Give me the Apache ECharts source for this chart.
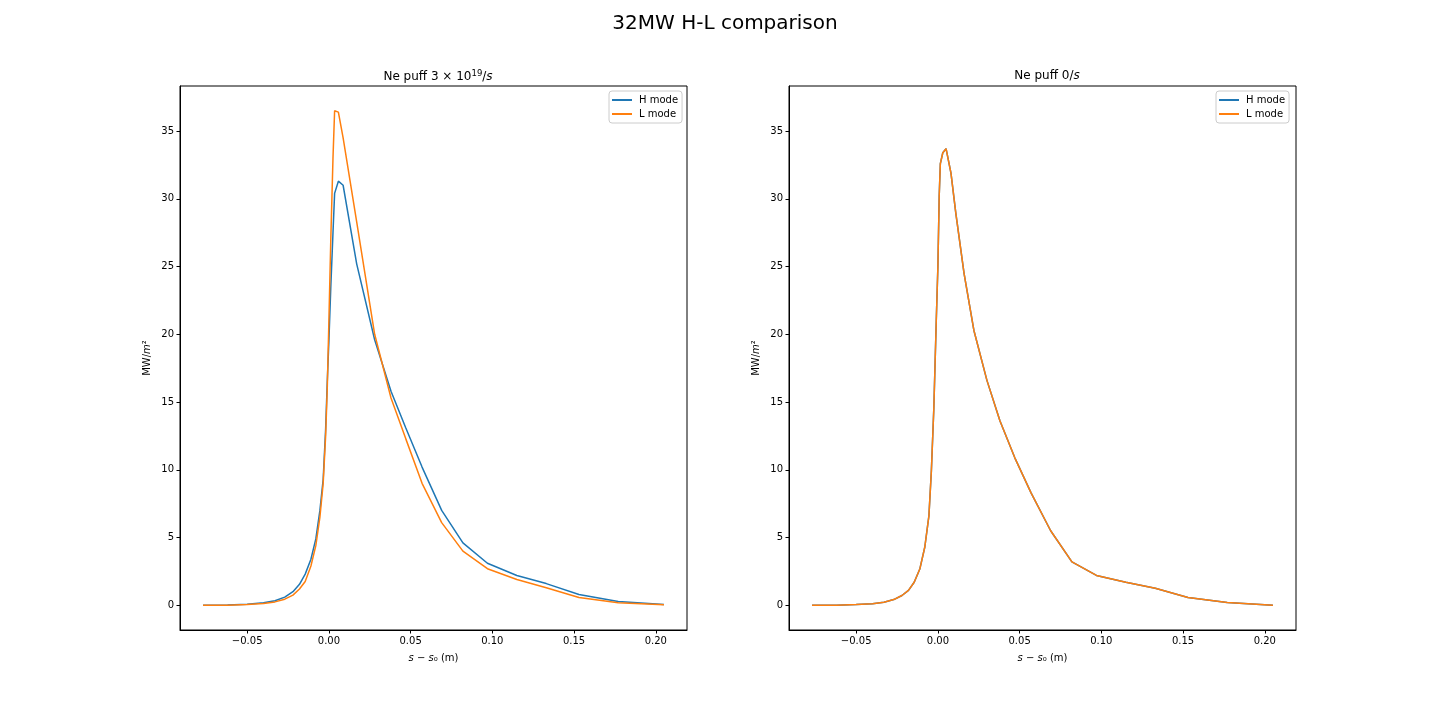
<!DOCTYPE html>
<html>
<head>
<meta charset="utf-8">
<script src="https://cdn.jsdelivr.net/npm/echarts@6/dist/echarts.min.js"></script>
<style>
  html, body { margin: 0; padding: 0; background: #fff; }
  #main { width: 1440px; height: 720px; }
</style>
</head>
<body>
<div id="main"></div>
<script>
// s - s0 (m) sample positions, one list per panel
const leftX = [-0.077, -0.062, -0.050, -0.040, -0.033, -0.027, -0.022, -0.018, -0.0145, -0.011,
    -0.008, -0.0055, -0.0035, -0.002, -0.001, 0, 0.0012, 0.0025, 0.0035, 0.0058,
    0.0087, 0.017, 0.028, 0.038, 0.047, 0.057, 0.069, 0.082, 0.097, 0.115,
    0.133, 0.153, 0.177, 0.205];
const leftH = [0, 0.02, 0.08, 0.18, 0.33, 0.6, 1.0, 1.55, 2.3, 3.4,
    4.9, 7.0, 9.3, 13.0, 16.5, 19.5, 23.6, 27.5, 30.4, 31.3,
    31.0, 25.2, 19.6, 15.8, 13.1, 10.2, 7.0, 4.6, 3.1, 2.2,
    1.6, 0.8, 0.28, 0.05];
const leftL = [0, 0.01, 0.06, 0.13, 0.25, 0.45, 0.75, 1.2, 1.75, 2.9,
    4.4, 6.5, 9.0, 12.5, 16.0, 21.0, 27.2, 33.0, 36.5, 36.4,
    34.5, 28.3, 20.0, 15.3, 12.3, 9.0, 6.1, 4.0, 2.7, 1.9,
    1.3, 0.57, 0.18, 0.03];

const rightX = [-0.077, -0.062, -0.050, -0.040, -0.033, -0.027, -0.022, -0.018, -0.0145, -0.011,
    -0.008, -0.0055, -0.004, -0.0025, -0.001, 0, 0.0008, 0.0015, 0.003, 0.005,
    0.008, 0.011, 0.016, 0.022, 0.030, 0.038, 0.047, 0.057, 0.069, 0.082,
    0.097, 0.115, 0.133, 0.153, 0.177, 0.205];
const rightH = [0, 0.01, 0.05, 0.12, 0.22, 0.42, 0.72, 1.1, 1.7, 2.7,
    4.3, 6.6, 9.9, 14.5, 21.0, 25.0, 30.2, 32.6, 33.4, 33.7,
    31.9, 28.9, 24.5, 20.3, 16.6, 13.6, 10.9, 8.3, 5.5, 3.2,
    2.2, 1.7, 1.25, 0.57, 0.2, 0.0];
const rightL = [0, 0.01, 0.05, 0.12, 0.22, 0.42, 0.72, 1.1, 1.7, 2.7,
    4.3, 6.6, 9.9, 14.5, 21.0, 25.0, 30.2, 32.6, 33.4, 33.7,
    31.9, 28.9, 24.5, 20.3, 16.6, 13.6, 10.9, 8.3, 5.5, 3.2,
    2.2, 1.7, 1.25, 0.57, 0.2, 0.0];

const xTicks = [-0.05, 0, 0.05, 0.10, 0.15, 0.20];
const yTicks = [0, 5, 10, 15, 20, 25, 30, 35];
const seriesNames = ['H mode', 'L mode'];

const FONT = 'DejaVu Sans';
const C_BLUE = '#1f77b4';
const C_ORANGE = '#ff7f0e';

// matplotlib style autoscale: 5% margin each side
const xMin = -0.077 - 0.282 * 0.05, xMax = 0.205 + 0.282 * 0.05;
const yMin = -36.5 * 0.05, yMax = 36.5 * 1.05;

const zip = (xs, ys) => xs.map((x, i) => [x, ys[i]]);
const fmtX = v => v.toFixed(2).replace('-', '\u2212');

const grids = [
    { left: 180, top: 86, width: 507, height: 544 },
    { left: 789, top: 86, width: 507, height: 544 },
];

function makeX(idx){
    return {
        type: 'value', gridIndex: idx, min: xMin, max: xMax,
        name: '{i|s} \u2212 {i|s}\u2080 (m)',
        nameLocation: 'middle', nameGap: 23,
        nameTextStyle: {
            fontFamily: FONT, fontSize: 10, color: '#000',
            rich: { i: { fontFamily: FONT, fontSize: 10, fontStyle: 'italic', color: '#000' } },
        },
        axisLine: { show: true, onZero: false, lineStyle: { color: '#000', width: 1 } },
        axisTick: { show: true, inside: false, length: 3.5, customValues: xTicks, lineStyle: { color: '#000' } },
        axisLabel: { customValues: xTicks, formatter: fmtX, fontFamily: FONT, fontSize: 10, color: '#000', margin: 6 },
        splitLine: { show: false },
    };
}
function makeY(idx){
    return {
        type: 'value', gridIndex: idx, min: yMin, max: yMax,
        name: '{n|MW/}{i|m}{n|\u00b2}',
        nameLocation: 'middle', nameGap: 28, nameRotate: 90,
        nameTextStyle: {
            fontFamily: FONT, fontSize: 10, color: '#000',
            rich: {
                n: { fontFamily: FONT, fontSize: 10, color: '#000' },
                i: { fontFamily: FONT, fontSize: 10, fontStyle: 'italic', color: '#000' },
            },
        },
        axisLine: { show: true, onZero: false, lineStyle: { color: '#000', width: 1 } },
        axisTick: { show: true, inside: false, length: 3.5, customValues: yTicks, lineStyle: { color: '#000' } },
        axisLabel: { customValues: yTicks, fontFamily: FONT, fontSize: 10, color: '#000', margin: 6 },
        splitLine: { show: false },
    };
}
function makeLine(name, data, color, idx){
    return {
        name, type: 'line', xAxisIndex: idx, yAxisIndex: idx,
        data, showSymbol: false, symbol: 'none',
        lineStyle: { color, width: 1.5 }, itemStyle: { color },
    };
}
function makeLegend(left){
    return {
        orient: 'vertical', left, top: 91,
        data: seriesNames,
        icon: 'rect', itemWidth: 20, itemHeight: 2, itemGap: 4,
        padding: [4, 4, 4, 3],
        borderColor: '#cccccc', borderWidth: 1, borderRadius: 3,
        backgroundColor: 'rgba(255,255,255,0.8)',
        textStyle: { fontFamily: FONT, fontSize: 10, color: '#000', padding: [0, 0, 0, 2] },
        selectedMode: false,
    };
}

const subRich = {
    n: { fontFamily: FONT, fontSize: 12, color: '#000' },
    sup: { fontFamily: FONT, fontSize: 8.5, color: '#000', verticalAlign: 'top', padding: [0, 0, 6, 0] },
    i: { fontFamily: FONT, fontSize: 12, fontStyle: 'italic', color: '#000' },
};

const myChart = echarts.init(document.getElementById('main'), null, { renderer: 'canvas' });
const option = {
    animation: false,
    backgroundColor: '#fff',
    title: [
        { text: '32MW H-L comparison', left: 720, top: 9, textAlign: 'center',
          textStyle: { fontFamily: FONT, fontSize: 20, fontWeight: 'normal', color: '#000' } },
        { text: '{n|Ne puff 3 \u00d7 10}{sup|19}{n|/}{i|s}', left: 433, top: 64, textAlign: 'center',
          textStyle: { fontFamily: FONT, fontSize: 12, fontWeight: 'normal', color: '#000', rich: subRich } },
        { text: '{n|Ne puff 0/}{i|s}', left: 1042, top: 65, textAlign: 'center',
          textStyle: { fontFamily: FONT, fontSize: 12, fontWeight: 'normal', color: '#000', rich: subRich } },
    ],
    legend: [makeLegend(609), makeLegend(1216)],
    grid: grids.map(g => ({ ...g, show: true, borderColor: '#000', borderWidth: 1, backgroundColor: 'transparent' })),
    xAxis: [makeX(0), makeX(1)],
    yAxis: [makeY(0), makeY(1)],
    series: [
        makeLine('H mode', zip(leftX, leftH), C_BLUE, 0),
        makeLine('L mode', zip(leftX, leftL), C_ORANGE, 0),
        makeLine('H mode', zip(rightX, rightH), C_BLUE, 1),
        makeLine('L mode', zip(rightX, rightL), C_ORANGE, 1),
    ],
};
myChart.setOption(option);
</script>
</body>
</html>
